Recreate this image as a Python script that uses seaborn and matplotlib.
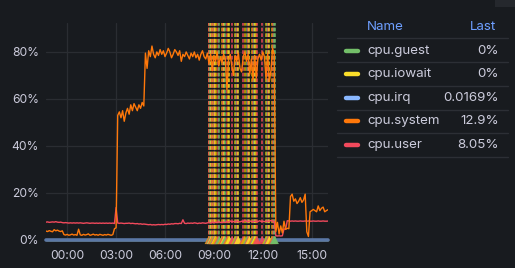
import numpy as np
import pandas as pd
import matplotlib
matplotlib.use("Agg")
import matplotlib.pyplot as plt
import seaborn as sns

# ---------------- data ----------------
hours = np.round(np.arange(-1.3, 16.0001, 0.1), 1)  # sample times (h since 00:00)

system_values = [
    3.8, 3.6, 4.0, 3.7, 3.5, 4.4, 3.9, 4.2, 3.8, 3.6,
    3.9, 2.3, 2.1, 2.4, 2.0, 2.2, 2.5, 2.1, 2.3, 2.0,
    4.6, 2.2, 2.0, 2.4, 2.1, 2.3, 2.6, 2.0, 2.2, 2.5,
    2.1, 2.3, 2.0, 2.4, 2.2, 2.0, 2.3, 2.1, 2.4, 2.2,
    2.0, 2.3, 4.8, 5.2, 53.0, 54.5, 52.0, 55.0, 50.5, 54.0,
    56.0, 53.5, 57.5, 55.0, 58.0, 56.5, 55.0, 57.5, 56.0, 58.5,
    57.0, 79.5, 73.0, 80.5, 78.0, 82.5, 79.0, 77.5, 80.0, 78.5,
    81.0, 79.0, 80.5, 78.0, 79.5, 81.5, 80.0, 77.5, 79.0, 81.0,
    80.0, 78.5, 80.5, 76.0, 79.0, 78.0, 80.0, 78.5, 77.0, 79.5,
    78.0, 80.0, 77.5, 79.0, 76.5, 79.0, 80.5, 78.0, 77.0, 79.5,
    75.0, 79.0, 72.0, 78.5, 76.0, 80.0, 74.0, 78.0, 75.5, 79.0,
    77.0, 64.0, 76.5, 79.0, 74.0, 70.0, 78.5, 76.0, 79.5, 73.0,
    71.5, 78.0, 80.0, 76.0, 79.0, 70.5, 77.0, 68.0, 78.5, 69.0,
    77.0, 79.0, 76.5, 80.0, 78.0, 68.5, 79.5, 67.5, 72.0, 81.5,
    79.0, 3.5, 7.5, 2.5, 6.0, 3.0, 8.0, 4.5, 5.0, 4.8,
    18.5, 19.5, 16.5, 17.5, 15.5, 16.5, 18.0, 16.0, 17.0, 19.5,
    3.5, 1.5, 12.0, 12.5, 13.0, 12.5, 12.0, 14.5, 12.5, 13.5,
    14.0, 12.0, 12.5, 12.9,
]

user_values = [
    7.6, 7.7, 7.5, 7.6, 7.7, 7.6, 7.8, 7.6, 7.5, 7.6,
    7.4, 7.3, 7.4, 7.3, 7.2, 7.3, 7.2, 7.3, 7.2, 7.3,
    7.2, 7.3, 7.2, 7.1, 7.2, 7.3, 7.2, 7.1, 7.2, 7.2,
    7.1, 7.2, 7.1, 7.2, 7.1, 7.2, 7.1, 7.2, 7.1, 7.2,
    7.1, 7.2, 7.0, 13.8, 7.2, 7.1, 7.2, 7.1, 7.0, 7.1,
    7.1, 7.2, 7.0, 7.1, 7.0, 6.9, 7.0, 6.8, 6.9, 6.7,
    6.8, 6.7, 6.6, 6.5, 6.6, 6.4, 6.5, 6.4, 6.5, 6.6,
    6.5, 6.6, 6.5, 6.7, 6.6, 6.8, 6.7, 6.9, 6.8, 7.0,
    7.0, 6.9, 7.1, 7.0, 8.6, 7.1, 7.0, 7.2, 7.1, 7.2,
    7.1, 7.3, 7.2, 7.0, 7.2, 7.1, 7.3, 7.2, 7.1, 7.3,
    7.4, 7.2, 7.5, 7.3, 7.6, 7.4, 7.8, 7.5, 7.4, 7.6,
    7.5, 7.8, 7.6, 8.1, 7.7, 7.9, 7.6, 8.2, 7.8, 7.7,
    8.0, 7.8, 8.5, 7.9, 7.8, 8.1, 7.9, 7.7, 8.0, 7.9,
    7.8, 8.2, 7.9, 8.0, 7.8, 8.1, 7.9, 8.0, 8.3, 8.0,
    8.0, 1.8, 1.7, 1.8, 1.7, 1.8, 4.7, 4.6, 8.2, 8.1,
    8.0, 8.1, 8.0, 8.1, 8.0, 8.0, 8.1, 8.0, 8.0, 8.1,
    8.0, 8.1, 8.0, 8.0, 8.1, 8.0, 8.0, 8.1, 8.0, 8.0,
    8.1, 8.0, 8.0, 8.05,
]

guest_values = [0.0] * len(hours)
iowait_values = [0.0] * len(hours)
irq_values = [0.0169] * len(hours)

series_names = ["cpu.guest", "cpu.iowait", "cpu.irq", "cpu.system", "cpu.user"]
series_colors = ["#73bf69", "#fade2a", "#8ab8ff", "#ff780a", "#f2495c"]
last_labels = ["0%", "0%", "0.0169%", "12.9%", "8.05%"]

annot_hours = [8.68, 8.73, 8.78, 8.83, 8.88, 8.93, 8.98, 9.03, 9.08, 9.13,
               9.25, 9.32, 9.48, 9.55, 9.62, 9.69, 9.82, 9.88, 9.95, 10.13,
               10.30, 10.36, 10.42, 10.49, 10.80, 10.88, 11.04, 11.12, 11.18, 11.34,
               11.40, 11.46, 11.52, 11.58, 11.64, 11.97, 12.21, 12.27, 12.33, 12.40,
               12.56, 12.62, 12.68, 12.74]
annot_colors = ["#e0b400", "#f2495c", "#73bf69", "#fade2a", "#f2495c", "#e0b400",
                "#73bf69", "#f2495c", "#fade2a", "#e0b400", "#f2495c", "#73bf69",
                "#e0b400", "#f2495c", "#fade2a", "#73bf69", "#f2495c", "#e0b400",
                "#fade2a", "#f2495c", "#e0b400", "#73bf69", "#f2495c", "#fade2a",
                "#f2495c", "#e0b400", "#73bf69", "#f2495c", "#fade2a", "#e0b400",
                "#f2495c", "#73bf69", "#fade2a", "#e0b400", "#f2495c", "#f2495c",
                "#e0b400", "#73bf69", "#f2495c", "#fade2a", "#e0b400", "#f2495c",
                "#73bf69", "#73bf69"]

y_ticks = [0, 20, 40, 60, 80]
y_tick_labels = ["0%", "20%", "40%", "60%", "80%"]
x_ticks = [0, 3, 6, 9, 12, 15]
x_tick_labels = ["00:00", "03:00", "06:00", "09:00", "12:00", "15:00"]

# ---------------- style ----------------
BG = "#181b1f"
TXT = "#ccccdc"
GRID = "#2a2d32"

sns.set_theme(style="dark", rc={
    "figure.facecolor": BG, "axes.facecolor": BG, "savefig.facecolor": BG,
    "axes.edgecolor": BG, "grid.color": GRID, "text.color": TXT,
    "xtick.color": TXT, "ytick.color": TXT,
})
plt.rcParams["font.family"] = ["Inter", "DejaVu Sans"]

W, H = 515, 268
fig = plt.figure(figsize=(W / 100, H / 100), dpi=100)
ax = fig.add_axes([46 / W, (H - 240) / H, (328 - 46) / W, (240 - 23) / H])

df = pd.DataFrame({
    "hour": np.concatenate([hours] * 5),
    "value": np.concatenate([guest_values, iowait_values, irq_values, system_values, user_values]),
    "series": np.repeat(series_names, len(hours)),
})

# annotations (dashed vertical markers)
for h, c in zip(annot_hours, annot_colors):
    ax.axvline(h, color=c, lw=1.4, alpha=0.75, zorder=1,
               linestyle=(0, (1.9, 1.0)))

palette = dict(zip(series_names, series_colors))
for name in ["cpu.guest", "cpu.iowait"]:
    sns.lineplot(data=df[df.series == name], x="hour", y="value", color=palette[name],
                 lw=1, ax=ax, legend=False, zorder=3, clip_on=False)
sns.lineplot(data=df[df.series == "cpu.irq"], x="hour", y="value", color="#5b78a6",
             lw=2.6, ax=ax, legend=False, zorder=3, clip_on=False)
sns.lineplot(data=df[df.series == "cpu.user"], x="hour", y="value", color=palette["cpu.user"],
             lw=1.0, ax=ax, legend=False, zorder=4)
sns.lineplot(data=df[df.series == "cpu.system"], x="hour", y="value", color=palette["cpu.system"],
             lw=1.0, ax=ax, legend=False, zorder=5)

# annotation region triangles at the bottom
ax.scatter(annot_hours, [0] * len(annot_hours), marker="^", s=34, c=annot_colors,
           linewidths=0, zorder=6, clip_on=False, alpha=0.9)

ax.set_xlim(hours[0], hours[-1])
ax.set_ylim(0, 92.3)
ax.set_yticks(y_ticks)
ax.set_yticklabels(y_tick_labels)
ax.set_xticks(x_ticks)
ax.set_xticklabels(x_tick_labels)
ax.tick_params(axis="both", length=0, labelsize=8.7, colors=TXT)
ax.tick_params(axis="y", pad=5)
ax.tick_params(axis="x", pad=7)
ax.grid(True, color=GRID, lw=0.9)
ax.set_xlabel("")
ax.set_ylabel("")
for s in ax.spines.values():
    s.set_visible(False)

# ---------------- legend table ----------------
def fy(py):
    return 1 - py / H

def fx(px):
    return px / W

hdr = "#6e9fff"
fig.text(fx(367), fy(27), "Name", color=hdr, fontsize=9.6, va="center", ha="left")
fig.text(fx(496), fy(27), "Last", color=hdr, fontsize=9.6, va="center", ha="right")
sep_y = [38, 62, 86, 110, 133, 157]
for y in sep_y:
    fig.add_artist(plt.Line2D([fx(337), fx(508)], [fy(y), fy(y)], color="#2c2f35", lw=1))
row_y = [51, 74, 98, 121, 145]
for name, col, last, y in zip(series_names, series_colors, last_labels, row_y):
    fig.add_artist(plt.Line2D([fx(346), fx(358)], [fy(y), fy(y)], color=col, lw=3.2,
                              solid_capstyle="round"))
    fig.text(fx(367), fy(y), name, color=TXT, fontsize=9.6, va="center", ha="left")
    fig.text(fx(499), fy(y), last, color=TXT, fontsize=9.6, va="center", ha="right")

# scrollbar hint at top right
fig.add_artist(plt.Rectangle((fx(495), fy(7)), fx(20), 7 / H, color="#25282d", lw=0))

fig.savefig("out.png", dpi=100, facecolor=BG)
